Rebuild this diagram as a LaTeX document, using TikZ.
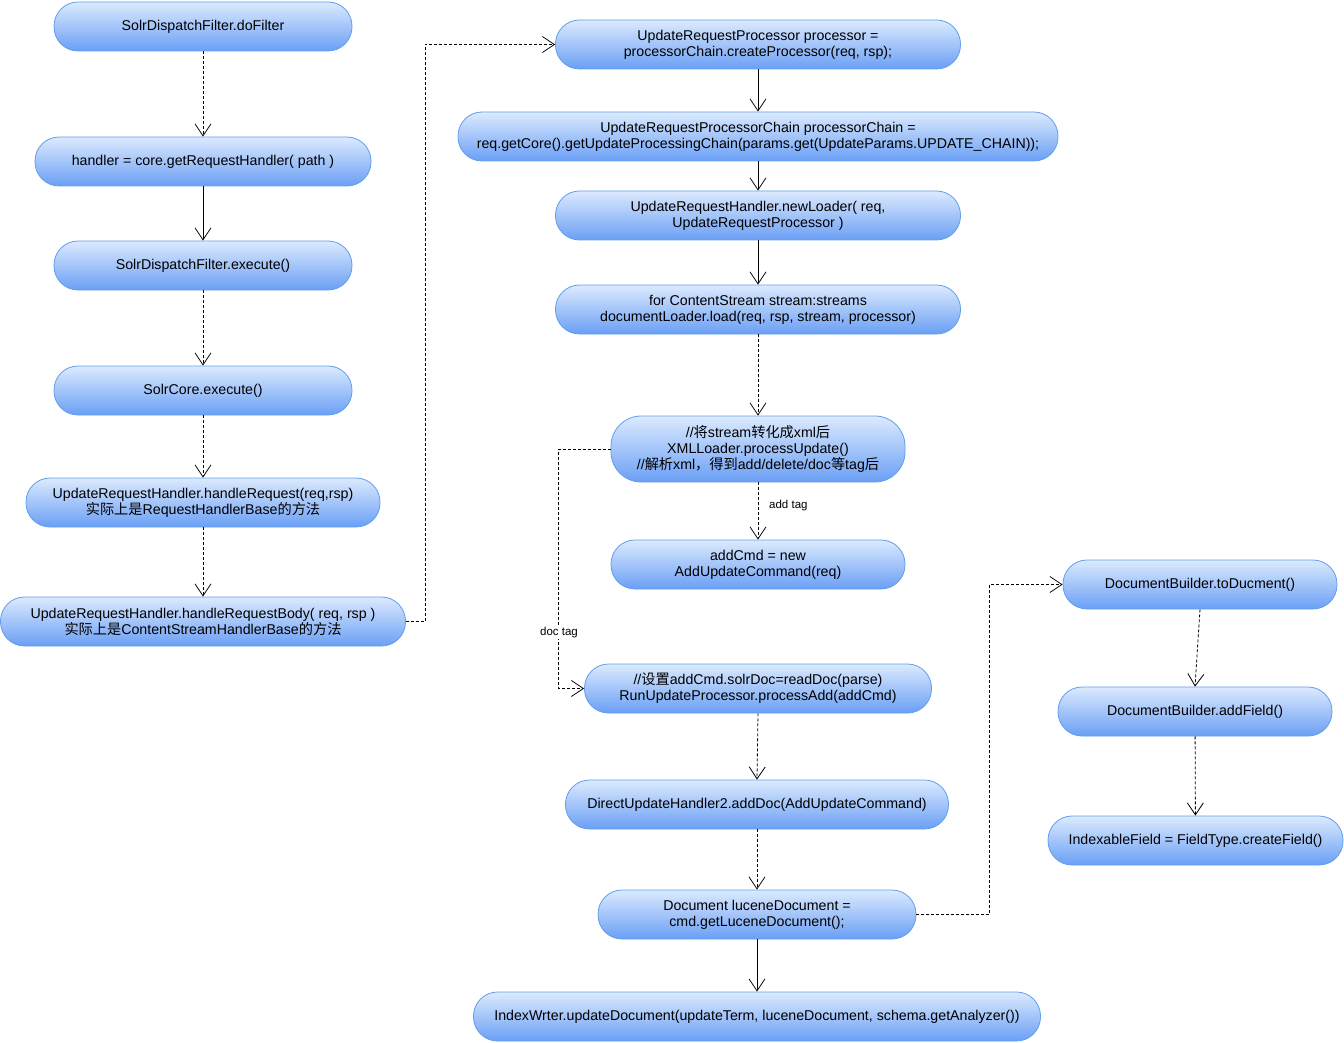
\documentclass[tikz,border=0pt]{standalone}
\usepackage{fontspec}
\setmainfont{Liberation Sans}
\newfontfamily\cjkfont{Noto Sans CJK SC}
\newcommand\zh[1]{{\cjkfont #1}}
\usetikzlibrary{arrows.meta}
\definecolor{boxtop}{RGB}{220,234,254}
\definecolor{boxbot}{RGB}{106,159,245}
\definecolor{boxline}{RGB}{96,158,236}
\begin{document}
\begin{tikzpicture}[x=1pt,y=-1pt,
  flow/.style={draw=boxline, line width=0.8pt, rounded corners=24pt,
    top color=boxtop, bottom color=boxbot, align=center,
    font=\fontsize{14.2}{16}\selectfont, inner sep=0pt, minimum height=49pt},
  conn/.style={line width=0.8pt, -{Straight Barb[length=12pt,width=16pt,line width=0.8pt]}},
  dconn/.style={conn, dash pattern=on 3pt off 2pt},
  lbl/.style={font=\fontsize{11.5}{13}\selectfont, inner sep=1pt}]
\useasboundingbox (0,0) rectangle (1344,1043);
% left column
\node[flow, minimum width=298pt] (n1) at (203,26.5) {SolrDispatchFilter.doFilter};
\node[flow, minimum width=336pt] (n2) at (203,161.5) {handler = core.getRequestHandler( path )};
\node[flow, minimum width=298pt] (n3) at (203,265.5) {SolrDispatchFilter.execute()};
\node[flow, minimum width=298pt] (n4) at (203,390.5) {SolrCore.execute()};
\node[flow, minimum width=354pt] (n5) at (203,502.5) {UpdateRequestHandler.handleRequest(req,rsp)\\\zh{实际上是}RequestHandlerBase\zh{的方法}};
\node[flow, minimum width=405pt] (n6) at (203,621.5) {UpdateRequestHandler.handleRequestBody( req, rsp )\\\zh{实际上是}ContentStreamHandlerBase\zh{的方法}};
% middle column
\node[flow, minimum width=405pt] (n7) at (758,44.5) {UpdateRequestProcessor processor =\\processorChain.createProcessor(req, rsp);};
\node[flow, minimum width=600pt] (n8) at (758,136.5) {UpdateRequestProcessorChain processorChain =\\req.getCore().getUpdateProcessingChain(params.get(UpdateParams.UPDATE\_CHAIN));};
\node[flow, minimum width=405pt] (n9) at (758,215.5) {UpdateRequestHandler.newLoader( req,\\UpdateRequestProcessor )};
\node[flow, minimum width=405pt] (n10) at (758,309.5) {for ContentStream stream:streams\\documentLoader.load(req, rsp, stream, processor)};
\node[flow, minimum width=294pt, minimum height=66pt, rounded corners=30pt] (n11) at (758,449) {//\zh{将}stream\zh{转化成}xml\zh{后}\\XMLLoader.processUpdate()\\//\zh{解析}xml\zh{，得到}add/delete/doc\zh{等}tag\zh{后}};
\node[flow, minimum width=294pt] (n12) at (758,564.5) {addCmd = new\\AddUpdateCommand(req)};
\node[flow, minimum width=347pt] (n13) at (758,688.5) {//\zh{设置}addCmd.solrDoc=readDoc(parse)\\RunUpdateProcessor.processAdd(addCmd)};
\node[flow, minimum width=383pt] (n14) at (757,804.5) {DirectUpdateHandler2.addDoc(AddUpdateCommand)};
\node[flow, minimum width=318pt] (n15) at (757,914.5) {Document luceneDocument =\\cmd.getLuceneDocument();};
\node[flow, minimum width=567pt] (n16) at (757,1016.5) {IndexWrter.updateDocument(updateTerm, luceneDocument, schema.getAnalyzer())};
% right column
\node[flow, minimum width=274pt] (n17) at (1200,584.5) {DocumentBuilder.toDucment()};
\node[flow, minimum width=274pt] (n18) at (1195,711.5) {DocumentBuilder.addField()};
\node[flow, minimum width=295pt] (n19) at (1195.5,840.5) {IndexableField = FieldType.createField()};
% connectors
\draw[dconn] (n1) -- (n2);
\draw[conn] (n2) -- (n3);
\draw[dconn] (n3) -- (n4);
\draw[dconn] (n4) -- (n5);
\draw[dconn] (n5) -- (n6);
\draw[dconn] (n6.east) -- ++(19,0) |- (n7.west);
\draw[conn] (n7) -- (n8);
\draw[conn] (n8) -- (n9);
\draw[conn] (n9) -- (n10);
\draw[dconn] (n10) -- (n11);
\draw[dconn] (n11) -- (n12);
\node[lbl, anchor=west] (laddtag) at (768,506) {add tag};
\draw[dconn] (n11.west) -- ++(-52,0) |- (n13.west);
\node[lbl, fill=white] (ldoctag) at (559,633) {doc tag};
\draw[dconn] (n13.south) -- (n14.north);
\draw[dconn] (n14) -- (n15);
\draw[conn] (n15) -- (n16);
\draw[dconn] (n15.east) -- ++(73,0) |- (n17.west);
\draw[dconn] (n17.south) -- (n18.north);
\draw[dconn] (n18) -- (n19);
\end{tikzpicture}
\end{document}
